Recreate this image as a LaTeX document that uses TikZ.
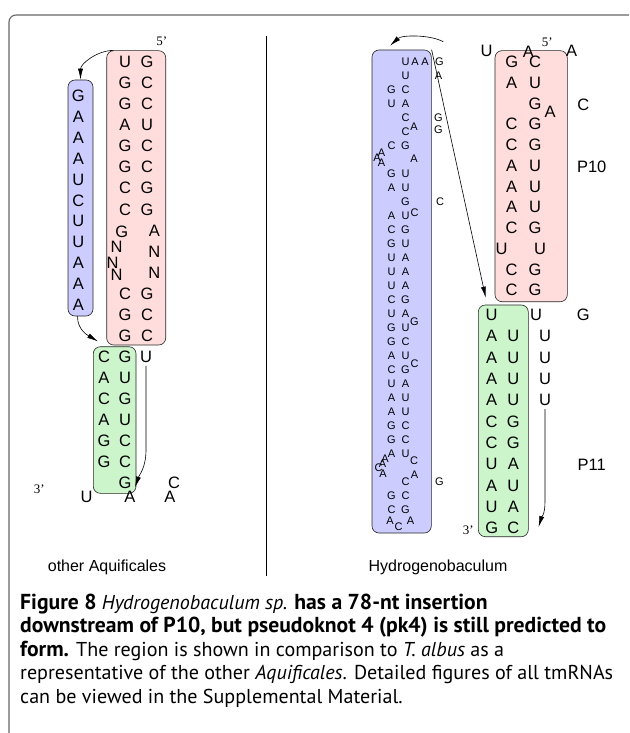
\documentclass[tikz,border=0pt]{standalone}
\usepackage{fontspec}
\setmainfont{Liberation Sans}
\newfontfamily\endfont{Liberation Serif}
\newfontfamily\capfont{PT Sans}
\usetikzlibrary{arrows.meta}
\definecolor{pinkfill}{RGB}{255,221,221}
\definecolor{bluefill}{RGB}{204,204,255}
\definecolor{greenfill}{RGB}{204,245,204}
\newlength\capw
\newcommand\captbold[1]{{\fontsize{\capsz}{\capsz}\selectfont\bfseries #1}}
\tikzset{
  nt/.style={inner sep=0pt, font=\fontsize{16.5}{18}\selectfont},
  snt/.style={inner sep=0pt, font=\fontsize{11}{12}\selectfont},
  endlbl/.style={inner sep=0pt, font=\endfont\fontsize{13}{14}\selectfont},
  paneltitle/.style={inner sep=0pt, font=\fontsize{16}{18}\selectfont},
  stembox/.style={draw=black!85, line width=0.6pt, rounded corners=7pt, inner sep=0pt},
  pinkbox/.style={stembox, fill=pinkfill},
  bluebox/.style={stembox, fill=bluefill},
  greenbox/.style={stembox, fill=greenfill},
  arr/.style={-{Latex[length=11pt,width=5pt]}, line width=0.6pt},
  capline/.style={inner sep=0pt, anchor=base west, font=\capfont\fontsize{\capszr}{\capszr}\selectfont},
}
\begin{document}
\settowidth\capw{\capfont\bfseries\fontsize{10}{12}\selectfont downstream of P10, but pseudoknot 4 (pk4) is still predicted to}%
\pgfmathsetmacro\capsz{10*586/\capw}%
\settowidth\capw{\capfont\fontsize{10}{12}\selectfont representative of the other \textit{Aquificales}. Detailed figures of all tmRNAs}%
\pgfmathsetmacro\capszr{10*593/\capw}%
\begin{tikzpicture}[x=1pt,y=-1pt]
\path[use as bounding box, fill=white] (0,0) rectangle (629,733);
% frame and divider
\draw[black!60, line width=1.1pt, rounded corners=7pt] (9,733) -- (9,15) -- (629,15);
\draw[line width=0.8pt] (266,36) -- (266,576);

% ---------------- left panel ----------------
\node[pinkbox, minimum width=59pt, minimum height=294.3pt] (pinkL) at (136.2,197.85) {};
\node[bluebox, minimum width=25pt, minimum height=236pt] (blueL) at (80.5,198) {};
\node[greenbox, minimum width=42.7pt, minimum height=146.6pt] (greenL) at (114.65,420) {};

\foreach \a/\b [count=\k from 0] in {U/G,G/C,G/C,A/U,G/C,G/C,C/G,C/G} {
  \node[nt] (pl\k) at (125,{61.7+21.1*\k}) {\a};
  \node[nt] (pr\k) at (147,{61.7+21.1*\k}) {\b};
}
\node[nt] (plg) at (121.7,231.7) {G};
\node[nt] (pln1) at (116.7,246.7) {N};
\node[nt] (pln2) at (112.7,263.3) {N};
\node[nt] (pln3) at (116.7,275) {N};
\node[nt] (pra) at (154.3,230.7) {A};
\node[nt] (prn1) at (154.3,251.7) {N};
\node[nt] (prn2) at (154.3,272.7) {N};
\foreach \a/\b/\y [count=\k] in {C/G/294,G/C/315,G/C/336} {
  \node[nt] (plb\k) at (125,\y) {\a};
  \node[nt] (prb\k) at (147,\y) {\b};
}
\foreach \a [count=\k from 0] in {G,A,A,A,U,C,U,U,A,A,A}
  \node[nt] (bl\k) at (78.3,{96+20.9*\k}) {\a};
\foreach \a [count=\k from 0] in {C,A,C,A,G,G}
  \node[nt] (gll\k) at (104,{357+21*\k}) {\a};
\foreach \a [count=\k from 0] in {G,U,G,U,C,C,G}
  \node[nt] (glr\k) at (125,{357+21*\k}) {\a};
\node[nt] (uL) at (146,357) {U};
\node[endlbl] (fiveL) at (161.7,41.7) {5’};
\node[endlbl] (threeL) at (39.3,489.3) {3’};
\node[nt] (uB) at (86.7,496.7) {U};
\node[nt] (aB1) at (130,497.3) {A};
\node[nt] (aB2) at (170,497.3) {A};
\node[nt] (cB) at (174,483.3) {C};

\draw[arr] ([xshift=7pt]pinkL.north west) .. controls +(-16,0) and +(0,-16) .. (blueL.north);
\draw[arr] ([xshift=-3pt]blueL.south) .. controls +(0,14) and +(-10,-6) .. ([xshift=5pt,yshift=5pt]greenL.north west);
\draw[arr] ([yshift=-3pt]uL.south) -- ++(0,84) .. controls +(0,18) and +(4,-12) .. ([xshift=5pt,yshift=4pt]aB1.north);

\node[paneltitle] (lblL) at (107,567) {other Aquificales};

% ---------------- right panel ----------------
\node[bluebox, minimum width=59.3pt, minimum height=483pt] (blueR) at (401.65,291.5) {};
\node[pinkbox, minimum width=72.3pt, minimum height=251pt] (pinkR) at (531.15,176.2) {};
\node[greenbox, minimum width=50pt, minimum height=231.7pt] (greenR) at (503.3,420.85) {};

% pink (P10)
\foreach \k/\a in {0/G,1/A,3/C,4/C,5/A,6/A,7/A,8/C,10/C,11/C}
  \node[nt] (prl\k) at (511.7,{62+20.75*\k}) {\a};
\foreach \k/\a in {0/C,1/U,2/G,3/G,4/G,5/U,6/U,7/U,8/G,10/G,11/G}
  \node[nt] (prr\k) at (535,{62+20.75*\k}) {\a};
\node[nt] (prl9) at (501.7,248.75) {U};
\node[nt] (prr9) at (540,248.75) {U};
\node[nt] (prbulge) at (550,111.7) {A};
\node[nt] (topU) at (486.7,50.7) {U};
\node[nt] (topA1) at (528.3,51.7) {A};
\node[endlbl] (fiveR) at (547.3,42.7) {5’};
\node[nt] (topA2) at (571.7,50.7) {A};
\node[nt] (sideC) at (583.3,105) {C};
\node[nt] (pten) at (591.7,166.7) {P10};

% green (P11)
\foreach \k/\a in {0/U,1/A,2/A,3/A,4/A,5/C,6/C,7/U,8/A,9/U,10/G}
  \node[nt] (grl\k) at (491.7,{315+21.3*\k}) {\a};
\foreach \k/\a in {1/U,2/U,3/U,4/U,5/G,6/G,7/A,8/U,9/A,10/C}
  \node[nt] (grr\k) at (513.3,{315+21.3*\k}) {\a};
\node[nt] (grU) at (536,315) {U};
\node[nt] (grG) at (583.3,315) {G};
\foreach \k in {1,2,3,4}
  \node[nt] (uc\k) at (545,{315+21.3*\k}) {U};
\node[nt] (pelev) at (591.7,465) {P11};
\node[endlbl] (threeR) at (468.3,530) {3’};

% blue (insertion), small letters
\foreach \x/\y/\a [count=\i] in {
  405.5/62/U, 415/62/A, 425/62/A, 439.5/62/G,
  405.5/76/U, 438.5/76/A,
  391.5/90/G, 405.5/90/C,
  391.5/104/U, 405.5/104/A,
  405.5/118/C, 438.5/118/G,
  405.5/132/C, 414/127/A, 438.5/130/G,
  391.5/146/C, 405.5/146/G,
  414/159/A, 381.5/152.5/A, 377/157.5/A, 381.5/163/A,
  391.5/174/G, 405.5/174/U,
  391.5/188/A, 405.5/188/U,
  405.5/202/G, 440/202/C,
  391.5/216/A, 405.5/216/U, 414.5/213/C,
  391.5/230/C, 405.5/230/G,
  391.5/244/G, 405.5/244/U,
  391.5/258/U, 405.5/258/A,
  391.5/272/U, 405.5/272/A,
  391.5/286/U, 405.5/286/A,
  391.5/300/C, 405.5/300/G,
  391.5/314/U, 405.5/314/A, 414.5/322/G,
  391.5/328/G, 405.5/328/U,
  391.5/342/G, 405.5/342/C,
  391.5/356/A, 405.5/356/U, 414.5/364/C,
  391.5/370/C, 405.5/370/G,
  391.5/384/U, 405.5/384/A,
  391.5/398/A, 405.5/398/U,
  391.5/412/A, 405.5/412/U,
  391.5/426/G, 405.5/426/C,
  391.5/440/G, 405.5/440/C,
  391.5/454/A, 405.5/454/U, 414/461/C,
  385/459/A, 382.5/464/A, 378.5/468/C, 383/474/A, 414.5/475/A,
  405.5/482/C, 439.5/482/G,
  391.5/496/G, 405.5/496/C,
  391.5/510/C, 405.5/510/G,
  390/521/A, 398.5/527/C, 410.5/521/A}
  \node[snt] (h\i) at (\x,\y) {\a};

\coordinate (topArcStart) at (443.3,41.7);
\draw[arr] (topArcStart) .. controls +(-13,-7) and +(12,-11) .. ([xshift=-11.6pt,yshift=4pt]blueR.north);
\draw[arr] (blueR.north east) -- ([xshift=7.7pt,yshift=7pt]greenR.north west);
\draw[arr] ([yshift=-3pt]uc4.south) -- ++(0,92) .. controls +(0,14) and +(3,-10) .. ([xshift=10pt,yshift=10pt]greenR.south east);

\node[paneltitle] (lblR) at (438,567) {Hydrogenobaculum};

% ---------------- caption ----------------
\node[capline] (cap1) at (20,609) {\captbold{Figure 8} \textit{Hydrogenobaculum sp.} \captbold{has a 78-nt insertion}};
\node[capline] (cap2) at (20,632.6) {\captbold{downstream of P10, but pseudoknot 4 (pk4) is still predicted to}};
\node[capline] (cap3) at (20,656.2) {\captbold{form.} The region is shown in comparison to \textit{T. albus} as a};
\node[capline] (cap4) at (20,679.8) {representative of the other \textit{Aquificales}. Detailed figures of all tmRNAs};
\node[capline] (cap5) at (20,703.4) {can be viewed in the Supplemental Material.};
\end{tikzpicture}
\end{document}
